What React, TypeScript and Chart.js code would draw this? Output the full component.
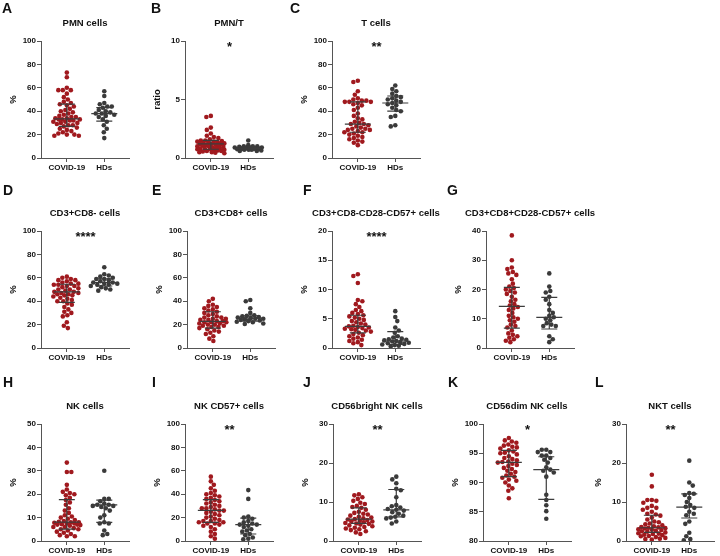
import React, { useEffect, useRef } from "react";
import { Chart, registerables } from "chart.js";

Chart.register(...registerables);

const FONT = "'Liberation Sans', Arial, Helvetica, sans-serif";
Chart.defaults.font.family = FONT;

const RED = "#a0191e";
const GREY = "#3a3a3a";
const AXIS = "#555555";
const STAT = "#3c3c3c";
const TEXT = "#111111";

const groups = ["COVID-19", "HDs"];

// ---- A: PMN cells (%)
const A_covid = [73, 69, 60, 58, 58, 58, 55, 52, 50, 48, 47, 46, 45, 44, 42, 41, 40, 39, 38, 37, 36, 35, 35, 34, 34, 33, 33, 33, 32, 32, 31, 31, 30, 30, 29, 28, 28, 27, 26, 25, 24, 23, 22, 21, 20, 20, 19, 19];
const A_hd = [57, 53, 47, 46, 44, 44, 43, 41, 40, 39, 38, 38, 37, 36, 35, 33, 31, 28, 25, 22, 17];
const A_covid_stats = [33.5, 27, 46]; // median, q1, q3
const A_hd_stats = [38, 31.5, 43];

// ---- B: PMN/T (ratio)
const B_covid = [3.6, 3.5, 2.6, 2.4, 2.1, 1.9, 1.8, 1.7, 1.6, 1.5, 1.5, 1.45, 1.4, 1.4, 1.35, 1.3, 1.3, 1.25, 1.2, 1.2, 1.2, 1.15, 1.1, 1.1, 1.05, 1.0, 1.0, 0.95, 0.9, 0.9, 0.85, 0.8, 0.8, 0.75, 0.75, 0.7, 0.7, 0.65, 0.6, 0.6, 0.55, 0.5, 0.5, 0.45, 0.4];
const B_hd = [1.5, 1.1, 1.0, 1.0, 1.0, 0.95, 0.9, 0.9, 0.9, 0.85, 0.8, 0.8, 0.8, 0.75, 0.7, 0.7, 0.7, 0.65, 0.6, 0.6];
const B_covid_stats = [1.2, 0.75, 1.5];
const B_hd_stats = [0.82, 0.7, 0.95];

// ---- C: T cells (%)
const C_covid = [66, 65, 57, 54, 51, 50, 49, 49, 48, 48, 48, 47, 46, 45, 43, 41, 38, 36, 34, 33, 31, 30, 29, 29, 28, 27, 26, 25, 25, 24, 24, 23, 22, 22, 21, 20, 19, 18, 17, 16, 15, 14, 13, 11];
const C_hd = [62, 59, 57, 55, 53, 52, 51, 50, 49, 48, 47, 46, 45, 43, 41, 40, 36, 35, 28, 27];
const C_covid_stats = [29, 22, 48];
const C_hd_stats = [47, 40, 53];

// ---- D: CD3+CD8- cells (%)
const D_covid = [61, 60, 59, 58, 58, 57, 56, 55, 55, 54, 54, 53, 53, 52, 51, 50, 50, 49, 48, 48, 47, 47, 46, 46, 45, 45, 44, 43, 42, 41, 40, 40, 38, 37, 35, 33, 31, 30, 28, 27, 22, 19, 17];
const D_hd = [69, 63, 62, 61, 60, 59, 59, 58, 57, 56, 56, 55, 55, 54, 54, 53, 52, 51, 50, 49];
const D_covid_stats = [48, 39, 54.5];
const D_hd_stats = [56, 53, 59];

// ---- E: CD3+CD8+ cells (%)
const E_covid = [42, 40, 37, 36, 35, 34, 33, 32, 31, 30, 29, 28, 27, 26, 26, 25, 25, 24, 24, 23, 23, 22, 22, 22, 21, 21, 20, 20, 19, 19, 18, 18, 17, 16, 15, 14, 13, 12, 10, 8, 6];
const E_hd = [41, 40, 34, 30, 28, 27.5, 27, 26.5, 26, 25.5, 25, 25, 24.5, 24, 23.5, 23, 22.5, 22, 21, 20.5];
const E_covid_stats = [22.8, 17, 31];
const E_hd_stats = [25.5, 23, 27.5];

// ---- F: CD3+CD8-CD28-CD57+ cells (%)
const F_covid = [12.6, 12.3, 11.1, 8.2, 8.0, 7.5, 7.0, 6.5, 6.3, 6.0, 5.8, 5.6, 5.4, 5.2, 5.0, 4.8, 4.6, 4.4, 4.2, 4.0, 3.8, 3.7, 3.6, 3.5, 3.4, 3.3, 3.2, 3.1, 3.0, 2.8, 2.6, 2.4, 2.2, 2.0, 1.8, 1.6, 1.4, 1.2, 1.0, 0.8, 0.5];
const F_hd = [6.3, 5.3, 4.6, 3.5, 3.0, 2.6, 2.0, 1.8, 1.6, 1.5, 1.4, 1.3, 1.2, 1.1, 1.0, 0.9, 0.8, 0.7, 0.6, 0.5, 0.4, 0.3];
const F_covid_stats = [3.7, 2.6, 5.6];
const F_hd_stats = [1.2, 0.6, 2.8];

// ---- G: CD3+CD8+CD28-CD57+ cells (%)
const G_covid = [38.5, 30, 27.5, 27, 26, 25.5, 25, 23.5, 22, 21, 20.5, 20, 19.5, 19, 18.5, 17.5, 16.5, 16, 15, 14.5, 14, 13.5, 13, 12, 11, 10.5, 10, 9.5, 9, 8, 7.5, 7, 6, 5, 4.5, 4, 3.5, 3, 2.5, 2];
const G_hd = [25.5, 21, 19.5, 19, 17.5, 16.5, 15, 13, 12, 11, 10.5, 10, 9.5, 8.5, 8, 7.5, 7.5, 4, 3, 2];
const G_covid_stats = [14.2, 6.8, 20.7];
const G_hd_stats = [10.5, 6.5, 17.3];

// ---- H: NK cells (%)
const H_covid = [33.5, 29.5, 29.5, 24, 22, 21, 20.5, 20, 19.5, 18.5, 17.5, 16.5, 15.5, 14, 13, 12, 11, 10.5, 10, 9.5, 9, 8.5, 8.2, 8, 8, 7.8, 7.5, 7.5, 7.2, 7, 7, 6.8, 6.5, 6, 6, 5.5, 5, 5, 4.5, 4, 3.5, 3, 2.5, 2, 2];
const H_hd = [30, 18, 18, 17, 16, 15.5, 15.5, 15, 15, 14.5, 14, 13, 11, 10, 8, 7.5, 7.5, 4.5, 3, 2.5];
const H_covid_stats = [8.1, 5.1, 17.7];
const H_hd_stats = [15.4, 8, 17.5];

// ---- I: NK CD57+ cells (%)
const I_covid = [55, 51, 48, 45, 43, 41, 40, 39, 38, 37, 36, 35, 34, 33, 32, 31, 30, 29, 28, 28, 27, 26, 26, 25, 24, 23, 22, 21, 20, 19, 18, 17, 17, 16, 16, 15, 15, 14, 13, 12, 10, 8, 6, 4, 2];
const I_hd = [43.5, 36, 21, 20, 19, 17, 16, 15, 14, 14, 13, 12, 10, 9, 8, 6, 5, 3, 2, 1.5];
const I_covid_stats = [26.2, 16, 35.3];
const I_hd_stats = [14, 6, 19.5];

// ---- J: CD56bright NK cells (%)
const J_covid = [12, 11.7, 11.2, 10.8, 10.3, 9.8, 9.5, 9, 8.7, 8.5, 8, 7.5, 7.2, 7, 6.8, 6.5, 6.2, 6, 5.8, 5.6, 5.5, 5.4, 5.2, 5, 5, 4.8, 4.6, 4.5, 4.4, 4.2, 4, 3.8, 3.6, 3.4, 3.2, 3, 2.8, 2.5, 2.2, 1.8];
const J_hd = [16.5, 15.8, 14.8, 13.4, 13, 11.2, 9.2, 8.9, 8.6, 8.2, 8, 7.8, 7.4, 7, 6.5, 6.2, 6, 5.8, 5, 4.5];
const J_covid_stats = [5.6, 4.5, 8.5];
const J_hd_stats = [8, 6.2, 13.2];

// ---- K: CD56dim NK cells (%)
const K_covid = [97.6, 97.2, 97, 96.8, 96.5, 96.3, 96.1, 96, 95.8, 95.5, 95.3, 95.1, 95, 94.8, 94.5, 94.2, 94, 93.8, 93.6, 93.5, 93.4, 93.2, 93, 92.8, 92.5, 92.3, 92, 91.8, 91.5, 91.2, 91, 90.8, 90.5, 90.3, 90, 89.5, 89, 88.6, 87.3];
const K_hd = [95.6, 95.6, 95.2, 95.2, 94.6, 94.6, 94.2, 93.9, 93.4, 92.6, 92.2, 92, 91.7, 91, 87.9, 87, 86.1, 85.1, 83.8];
const K_covid_stats = [93.45, 91, 95.5];
const K_hd_stats = [92.2, 87.1, 94.4];

// ---- L: NKT cells (%)
const L_covid = [17, 14, 10.5, 10.5, 10.3, 9.8, 9, 8.5, 8.5, 8, 7.5, 7, 6.8, 6.5, 6, 5.5, 5, 4.8, 4.5, 4.3, 4, 3.8, 3.6, 3.5, 3.4, 3.3, 3.2, 3, 2.9, 2.8, 2.6, 2.5, 2.4, 2.2, 2, 1.9, 1.8, 1.6, 1.5, 1.3, 1.2, 1, 0.8, 0.6, 0.5, 0.4];
const L_hd = [20.6, 15, 14.2, 12.3, 12.1, 11.8, 11, 10, 9.2, 8.8, 8.5, 7.5, 7, 6.6, 5, 4.4, 2.1, 1.2, 0.5, 0.2];
const L_covid_stats = [3.4, 2.2, 6.6];
const L_hd_stats = [8.7, 5.9, 12.1];

const panelLetters = ["A", "B", "C", "D", "E", "F", "G", "H", "I", "J", "K", "L"];
const panelTitles = [
  "PMN cells", "PMN/T", "T cells",
  "CD3+CD8- cells", "CD3+CD8+ cells", "CD3+CD8-CD28-CD57+ cells", "CD3+CD8+CD28-CD57+ cells",
  "NK cells", "NK CD57+ cells", "CD56bright NK cells", "CD56dim NK cells", "NKT cells",
];
const yTitles = ["%", "ratio", "%", "%", "%", "%", "%", "%", "%", "%", "%", "%"];
const yMin = [0, 0, 0, 0, 0, 0, 0, 0, 0, 0, 80, 0];
const yMax = [100, 10, 100, 100, 100, 20, 40, 50, 100, 30, 100, 30];
const yStep = [20, 5, 20, 20, 20, 5, 10, 10, 20, 10, 5, 10];
const stars = ["", "*", "**", "****", "", "****", "", "", "**", "**", "*", "**"];

const covidSeries = [A_covid, B_covid, C_covid, D_covid, E_covid, F_covid, G_covid, H_covid, I_covid, J_covid, K_covid, L_covid];
const hdSeries = [A_hd, B_hd, C_hd, D_hd, E_hd, F_hd, G_hd, H_hd, I_hd, J_hd, K_hd, L_hd];
const covidStats = [A_covid_stats, B_covid_stats, C_covid_stats, D_covid_stats, E_covid_stats, F_covid_stats, G_covid_stats, H_covid_stats, I_covid_stats, J_covid_stats, K_covid_stats, L_covid_stats];
const hdStats = [A_hd_stats, B_hd_stats, C_hd_stats, D_hd_stats, E_hd_stats, F_hd_stats, G_hd_stats, H_hd_stats, I_hd_stats, J_hd_stats, K_hd_stats, L_hd_stats];

// ---- layout (page pixels)
const axisX = [41, 185, 332, 41, 187, 332, 486, 41, 185, 333, 483, 626];
const plotTop = [41, 41, 41, 231, 231, 231, 231, 424, 424, 424, 424, 424];
const letterX = [2, 151, 290, 3, 152, 303, 447, 3, 152, 303, 448, 595];
const letterCapTop = [3, 3, 3, 185, 185, 185, 185, 377, 377, 377, 377, 377];

const PLOT_W = 88;
const PLOT_H = 117;
const Y_AXIS_W = 36;
const X_AXIS_H = 18;
const PAD_TOP = 26;
const PAD_SIDE = 28;
const X_MIN = 0.31;
const X_MAX = 2.66;
const DOT_R = 2.3;
const MAX_HALF = 13.5;

function swarm(values: number[], group: number, pxPerY: number) {
  const pxPerX = PLOT_W / (X_MAX - X_MIN);
  const minDist = DOT_R * 2 - 0.1;
  const placed: { px: number; py: number }[] = [];
  const idx = values.map((_, i) => i).sort((a, b) => values[b] - values[a]);
  const pts: { x: number; y: number }[] = new Array(values.length);
  const cands: number[] = [0];
  for (let s = 0.5; s <= MAX_HALF; s += 0.5) { cands.push(s, -s); }
  for (let n = 0; n < idx.length; n++) {
    const i = idx[n];
    const py = values[i] * pxPerY;
    let chosen: number | null = null;
    let bestOff = 0;
    let bestD = -1;
    const flip = n % 2 === 0 ? 1 : -1;
    for (const c0 of cands) {
      const c = c0 * flip;
      let dmin = Infinity;
      for (const p of placed) {
        const dy = p.py - py;
        if (Math.abs(dy) >= minDist) continue;
        const d = Math.hypot(p.px - c, dy);
        if (d < dmin) dmin = d;
      }
      if (dmin >= minDist) { chosen = c; break; }
      if (dmin > bestD) { bestD = dmin; bestOff = c; }
    }
    const off = chosen === null ? bestOff : chosen;
    placed.push({ px: off, py });
    pts[i] = { x: group + off / pxPerX, y: values[i] };
  }
  return pts;
}

function makeChart(canvas: HTMLCanvasElement, i: number) {
  const pxPerY = PLOT_H / (yMax[i] - yMin[i]);
  const stats = [covidStats[i], hdStats[i]];
  const overlay = {
    id: "overlay" + i,
    afterDatasetsDraw(chart: any) {
      const { ctx, chartArea, scales } = chart;
      const xs = scales.x;
      const ys = scales.y;
      ctx.save();
      ctx.strokeStyle = STAT;
      ctx.lineWidth = 1.2;
      stats.forEach((s: number[], gi: number) => {
        const cx = xs.getPixelForValue(gi + 1);
        const ym = ys.getPixelForValue(s[0]);
        const y1 = ys.getPixelForValue(s[1]);
        const y3 = ys.getPixelForValue(s[2]);
        ctx.beginPath();
        ctx.moveTo(cx, y1); ctx.lineTo(cx, y3);
        ctx.moveTo(cx - 8, y1); ctx.lineTo(cx + 8, y1);
        ctx.moveTo(cx - 8, y3); ctx.lineTo(cx + 8, y3);
        ctx.moveTo(cx - 13, ym); ctx.lineTo(cx + 13, ym);
        ctx.stroke();
      });
      ctx.fillStyle = TEXT;
      ctx.textAlign = "center";
      ctx.textBaseline = "middle";
      ctx.font = "bold 9.5px " + FONT;
      ctx.fillText(panelTitles[i], (chartArea.left + chartArea.right) / 2, chartArea.top - 18);
      if (stars[i]) {
        ctx.textBaseline = "alphabetic";
        ctx.font = "bold 13px " + FONT;
        const sx = (xs.getPixelForValue(1) + xs.getPixelForValue(2)) / 2;
        ctx.fillText(stars[i], sx, chartArea.top + 9.5);
      }
      ctx.restore();
    },
  };
  return new Chart(canvas, {
    type: "scatter",
    data: {
      datasets: [
        {
          data: swarm(covidSeries[i], 1, pxPerY),
          backgroundColor: RED,
          borderWidth: 0,
          pointRadius: DOT_R,
          pointHoverRadius: DOT_R,
        },
        {
          data: swarm(hdSeries[i], 2, pxPerY),
          backgroundColor: GREY,
          borderWidth: 0,
          pointRadius: DOT_R,
          pointHoverRadius: DOT_R,
        },
      ],
    },
    options: {
      animation: false,
      responsive: false,
      maintainAspectRatio: false,
      events: [],
      layout: { padding: { top: PAD_TOP, left: PAD_SIDE, right: PAD_SIDE, bottom: 0 } },
      plugins: { legend: { display: false }, tooltip: { enabled: false }, title: { display: false } },
      scales: {
        x: {
          type: "linear",
          min: X_MIN,
          max: X_MAX,
          offset: false,
          afterBuildTicks: (s: any) => { s.ticks = [{ value: 1 }, { value: 2 }]; },
          afterFit: (s: any) => { s.height = X_AXIS_H; },
          ticks: {
            autoSkip: false,
            maxRotation: 0,
            padding: 1,
            color: TEXT,
            font: { size: 8, weight: "bold" },
            callback: (v: any) => groups[Math.round(Number(v)) - 1] ?? "",
          },
          grid: { display: true, drawOnChartArea: false, drawTicks: true, tickLength: 4, color: AXIS, lineWidth: 1 },
          border: { display: true, color: AXIS, width: 1 },
        },
        y: {
          type: "linear",
          min: yMin[i],
          max: yMax[i],
          afterFit: (s: any) => { s.width = Y_AXIS_W; },
          ticks: { stepSize: yStep[i], autoSkip: false, padding: 1, color: TEXT, font: { size: 8, weight: "bold" } },
          grid: { display: true, drawOnChartArea: false, drawTicks: true, tickLength: 4, color: AXIS, lineWidth: 1 },
          border: { display: true, color: AXIS, width: 1 },
          title: {
            display: true,
            text: yTitles[i],
            color: TEXT,
            font: { size: 9.5, weight: "bold" },
            padding: { top: 3, bottom: 0 },
          },
        },
      },
    },
    plugins: [overlay],
  } as any);
}

function Panel({ i }: { i: number }) {
  const ref = useRef<HTMLCanvasElement>(null);
  const W = PAD_SIDE + Y_AXIS_W + PLOT_W + PAD_SIDE;
  const H = PAD_TOP + PLOT_H + X_AXIS_H;
  useEffect(() => {
    const chart = makeChart(ref.current as HTMLCanvasElement, i);
    return () => chart.destroy();
  }, [i]);
  return (
    <>
      <canvas
        ref={ref}
        width={W}
        height={H}
        style={{ position: "absolute", left: axisX[i] - Y_AXIS_W - PAD_SIDE, top: plotTop[i] - PAD_TOP, width: W, height: H }}
      />
      <div
        style={{
          position: "absolute",
          left: letterX[i],
          top: letterCapTop[i] - 2,
          font: "bold 14px " + FONT,
          lineHeight: "14px",
          color: TEXT,
        }}
      >
        {panelLetters[i]}
      </div>
    </>
  );
}

export default function App() {
  return (
    <div
      style={{
        position: "fixed",
        left: 0,
        top: 0,
        width: 720,
        height: 556,
        overflow: "hidden",
        background: "#ffffff",
      }}
    >
      {panelLetters.map((_, i) => (
        <Panel key={i} i={i} />
      ))}
    </div>
  );
}
